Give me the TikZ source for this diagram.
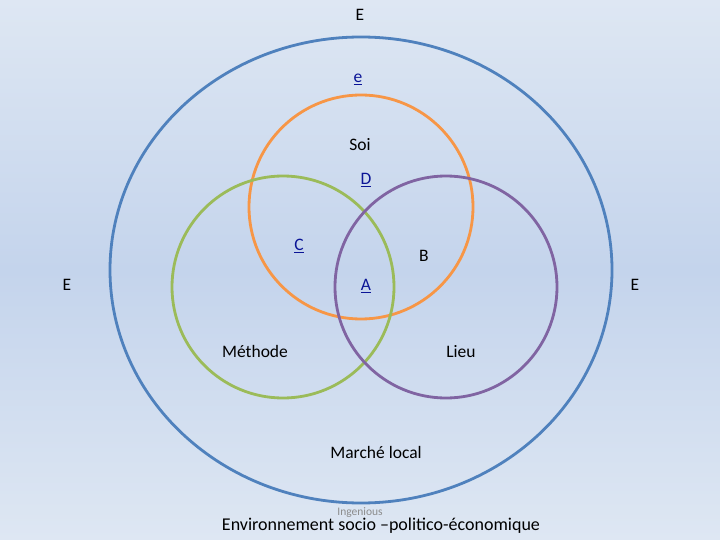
\documentclass[tikz,border=0pt]{standalone}
\usepackage{fontspec}
\setmainfont{Carlito}
\definecolor{ebleu}{RGB}{79,129,189}
\definecolor{eorange}{RGB}{247,150,70}
\definecolor{evert}{RGB}{155,187,89}
\definecolor{eviolet}{RGB}{128,100,162}
\definecolor{lien}{RGB}{10,20,150}
\definecolor{fondhaut}{RGB}{222,231,243}
\definecolor{fondmilieu}{RGB}{196,212,236}
\tikzset{
  lbl/.style={font=\fontsize{17.5}{20}\selectfont, inner sep=0pt, text height=1.6ex, text depth=.5ex},
  lnk/.style={lbl, text=lien},
}
\newcommand{\lk}[1]{\underline{#1}}
\begin{document}
\begin{tikzpicture}[x=1pt,y=-1pt]
  % fond
  \useasboundingbox (0,0) rectangle (720,540);
  \shade[top color=fondhaut,bottom color=fondhaut,middle color=fondmilieu] (0,0) rectangle (720,540);

  % environnement (grande ellipse)
  \draw[draw=ebleu,line width=2.8pt] (361,270) ellipse (251pt and 233pt);

  % Soi
  \draw[draw=eorange,line width=2.8pt] (361,207) circle (112pt);

  % Methode
  \draw[draw=evert,line width=2.8pt] (283,287) circle (111pt);

  % Lieu
  \draw[draw=eviolet,line width=2.8pt] (446,287) circle (111pt);

  % textes
  \node[lbl] (etop) at (360,18) {E};
  \node[lbl] (eleft) at (67,288) {E};
  \node[lbl] (eright) at (635,288) {E};
  \node[lnk] (le) at (358,80) {\lk{e}};
  \node[lbl] (soi) at (360,148) {Soi};
  \node[lnk] (ld) at (366,182) {\lk{D}};
  \node[lnk] (lc) at (299,248) {\lk{C}};
  \node[lbl] (lb) at (424,259) {B};
  \node[lnk] (la) at (366,288) {\lk{A}};
  \node[lbl] (methode) at (255,355) {Méthode};
  \node[lbl] (lieu) at (461,355) {Lieu};
  \node[lbl] (marche) at (376,456) {Marché local};
  \node[font=\fontsize{11.5}{13}\selectfont, text=black!45, inner sep=0pt] (ingen) at (360,513) {Ingenious};
  \node[font=\fontsize{18}{21}\selectfont, inner sep=0pt] (envir) at (381,526) {Environnement socio –politico-économique};
\end{tikzpicture}
\end{document}
